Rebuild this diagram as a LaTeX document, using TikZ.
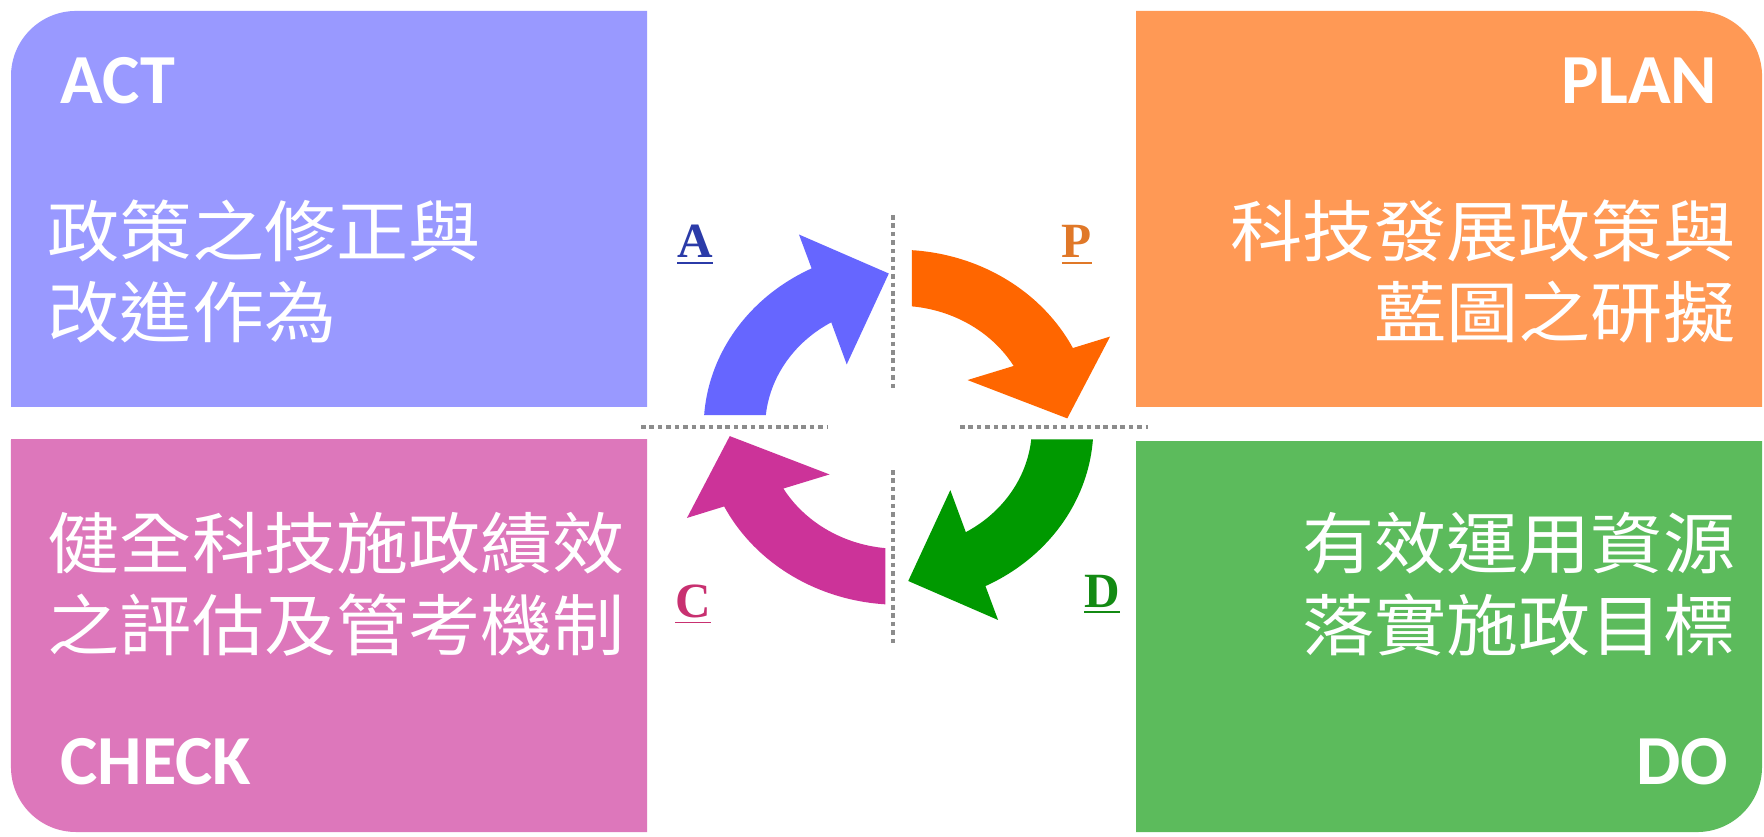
\documentclass[tikz,border=0pt]{standalone}
\usepackage{fontspec}
\setmainfont{Carlito}
\newfontfamily\cjk{Noto Sans CJK TC}[FakeStretch=1.08]
\newfontfamily\lettfont{Liberation Serif}
\definecolor{actc}{HTML}{9999FF}
\definecolor{planc}{HTML}{FF9955}
\definecolor{checkc}{HTML}{DD77BB}
\definecolor{doc}{HTML}{5CBB5C}
\definecolor{arrA}{HTML}{6666FF}
\definecolor{arrP}{HTML}{FF6600}
\definecolor{arrD}{HTML}{009900}
\definecolor{arrC}{HTML}{CC3399}
\definecolor{letA}{HTML}{2B3BA8}
\definecolor{letP}{HTML}{E07828}
\definecolor{letC}{HTML}{C83070}
\definecolor{letD}{HTML}{138A13}
\definecolor{sepgray}{HTML}{8C8C8C}
\newcommand\cyclearrow[2]{%
  \pgfmathsetmacro\cyaA{176.1+#1}%
  \pgfmathsetmacro\cyaB{116.5+#1}%
  \pgfmathsetmacro\cyaC{115.2+#1}%
  \pgfmathsetmacro\cyaD{93.3+#1}%
  \pgfmathsetmacro\cyaE{126.9+#1}%
  \pgfmathsetmacro\cyaF{120.3+#1}%
  \pgfmathsetmacro\cyaG{174.3+#1}%
  \fill[#2] plot[domain=\cyaA:\cyaB, samples=40] (\x:177.5) -- (\cyaC:213) -- (\cyaD:154) -- (\cyaE:78.6)
    -- plot[domain=\cyaF:\cyaG, samples=40] (\x:121.5) -- cycle;
}
\tikzset{
  title/.style={font=\fontsize{20}{24}\selectfont\bfseries, text=white, inner sep=0pt},
  cjktext/.style={font=\cjk\fontsize{19}{23.3}\selectfont, text=white, inner sep=0pt},
  letter/.style={font=\lettfont\bfseries\fontsize{14}{17}\selectfont, inner sep=0pt, anchor=base},
  sepline/.style={draw=sepgray, line width=1.3pt, dash pattern=on 1.3pt off 1.1pt}
}
\begin{document}
\begin{tikzpicture}[x=0.01cm, y=-0.01cm]
\useasboundingbox[fill=white] (0,0) rectangle (1764,837);
% quadrant boxes
\fill[actc] (11,407) -- (11,76) arc[start angle=180, end angle=90, radius=0.65cm] -- (647,11) -- (647,407) -- cycle;
\fill[planc] (1136,407) -- (1136,11) -- (1697,11) arc[start angle=90, end angle=0, radius=0.65cm] -- (1762,407) -- cycle;
\fill[checkc] (11,439) -- (647,439) -- (647,832) -- (76,832) arc[start angle=270, end angle=180, radius=0.65cm] -- cycle;
\fill[doc] (1136,441) -- (1762,441) -- (1762,767) arc[start angle=0, end angle=-90, radius=0.65cm] -- (1136,832) -- cycle;
% titles
\node[title, anchor=base west] (act) at (60,104) {ACT};
\node[title, anchor=base east] (plan) at (1718,104) {PLAN};
\node[title, anchor=base west] (check) at (60,784) {CHECK};
\node[title, anchor=base east] (do) at (1729,784) {DO};
% descriptions (base anchor = baseline of the last line)
\node[cjktext, anchor=base west, align=left] (actt) at (47,338) {政策之修正與\\改進作為};
\node[cjktext, anchor=base east, align=right] (plant) at (1736,338) {科技發展政策與\\藍圖之研擬};
\node[cjktext, anchor=base west, align=left] (checkt) at (47,650) {健全科技施政績效\\之評估及管考機制};
\node[cjktext, anchor=base east, align=right] (dot) at (1736,650) {有效運用資源\\落實施政目標};
% separators
\coordinate (vt1) at (893,215); \coordinate (vt2) at (893,388);
\coordinate (vb1) at (893,470); \coordinate (vb2) at (893,643);
\coordinate (hl1) at (641,427); \coordinate (hl2) at (828,427);
\coordinate (hr1) at (960,427); \coordinate (hr2) at (1148,427);
\draw[sepline] (vt1) -- (vt2);
\draw[sepline] (vb1) -- (vb2);
\draw[sepline] (hl1) -- (hl2);
\draw[sepline] (hr1) -- (hr2);
% cycle arrows
\begin{scope}[shift={(8.98cm,-4.27cm)}, x=0.01097cm, y=0.01cm]
\cyclearrow{0}{arrA}
\cyclearrow{-90}{arrP}
\cyclearrow{-180}{arrD}
\cyclearrow{90}{arrC}
\end{scope}
% letters
\node[letter, text=letA] (la) at (695,258) {\underline{A}};
\node[letter, text=letP] (lp) at (1077,258) {\underline{P}};
\node[letter, text=letC] (lc) at (693,617) {\underline{C}};
\node[letter, text=letD] (ld) at (1102,607) {\underline{D}};
\end{tikzpicture}
\end{document}
